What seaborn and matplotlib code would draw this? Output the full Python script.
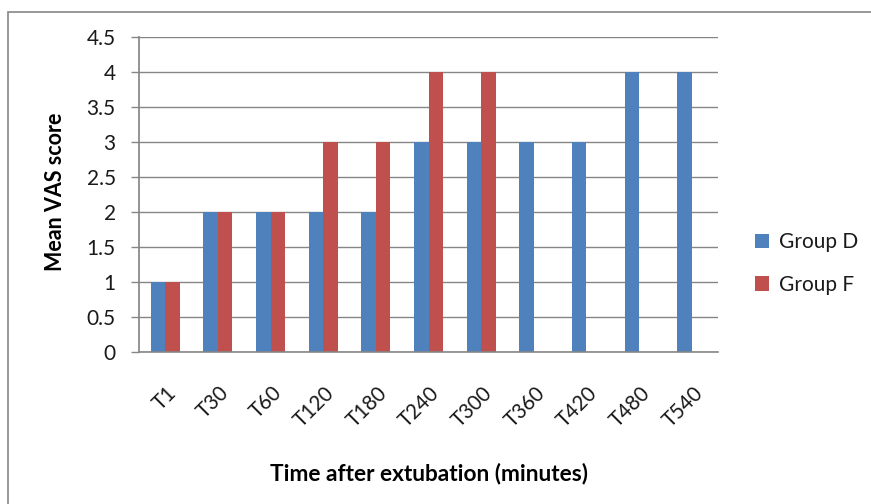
import numpy as np
import pandas as pd
import matplotlib
matplotlib.use("Agg")
import matplotlib.pyplot as plt
import matplotlib.transforms as mtransforms
import seaborn as sns
from matplotlib.patches import Rectangle, Patch

categories = ["T1", "T30", "T60", "T120", "T180", "T240", "T300", "T360", "T420", "T480", "T540"]
group_d = [1, 2, 2, 2, 2, 3, 3, 3, 3, 4, 4]
group_f = [1, 2, 2, 3, 3, 4, 4, np.nan, np.nan, np.nan, np.nan]
series_names = ["Group D", "Group F"]
y_ticks = [0, 0.5, 1, 1.5, 2, 2.5, 3, 3.5, 4, 4.5]

df = pd.DataFrame({
    "time": categories * 2,
    "score": group_d + group_f,
    "group": [series_names[0]] * len(categories) + [series_names[1]] * len(categories),
})

sns.set_theme(style="white")
plt.rcParams["font.family"] = ["Lato", "DejaVu Sans"]

colors = ["#4F81BD", "#C0504D"]
grid_c = "#868686"
text_c = "#1a1a1a"
fig = plt.figure(figsize=(8.71, 5.04), dpi=100)
ax = fig.add_axes([139 / 871, 1 - 352 / 504, (718 - 139) / 871, (352 - 37) / 504])

sns.barplot(data=df, x="time", y="score", hue="group", order=categories,
            hue_order=series_names, palette=colors, width=0.55, saturation=1,
            linewidth=0, ax=ax, legend=False, errorbar=None)

ax.set_ylim(0, 4.5)
ax.set_xlim(-0.5, len(categories) - 0.5)
ax.set_yticks(y_ticks)
ax.set_yticklabels([f"{v:g}" for v in y_ticks], fontsize=15, color=text_c)
ax.yaxis.grid(True, color=grid_c, linewidth=1)
ax.set_axisbelow(True)
ax.tick_params(axis="y", length=5.8, width=1, color=grid_c, left=True, pad=11)
ax.tick_params(axis="x", length=0, pad=22)
offset = mtransforms.ScaledTranslation(1 / 100, 0, fig.dpi_scale_trans)
for lab in ax.get_xticklabels():
    lab.set_rotation(45)
    lab.set_ha("right")
    lab.set_rotation_mode("anchor")
    lab.set_fontsize(14.8)
    lab.set_color(text_c)
    lab.set_transform(lab.get_transform() + offset)
for s in ["top", "right"]:
    ax.spines[s].set_visible(False)
ax.spines["left"].set_color(grid_c)
ax.spines["bottom"].set_color(grid_c)
ax.spines["bottom"].set_linewidth(1.2)

ax.set_xlabel("Time after extubation (minutes)", fontsize=16.3, fontweight="bold", color="black")
ax.set_ylabel("Mean VAS score", fontsize=15.5, fontweight="bold", color="black")
ax.xaxis.set_label_coords(0.50, -0.35)
ax.yaxis.set_label_coords(-(139 - 66) / 579, 0.51)

handles = [Patch(facecolor=c, edgecolor="none") for c in colors]
fig.legend(handles, series_names, loc="center left", bbox_to_anchor=(0.845, 0.477),
           frameon=False, fontsize=15, handlelength=0.7, handleheight=0.7,
           labelspacing=1.1, handletextpad=0.45, labelcolor=text_c)

fig.patches.append(Rectangle((8 / 871, -0.1), 1.2, 1 - 12 / 504 + 0.1, transform=fig.transFigure,
                             fill=False, edgecolor=grid_c, linewidth=1.2))

fig.savefig("out.png", dpi=100, facecolor="white")
